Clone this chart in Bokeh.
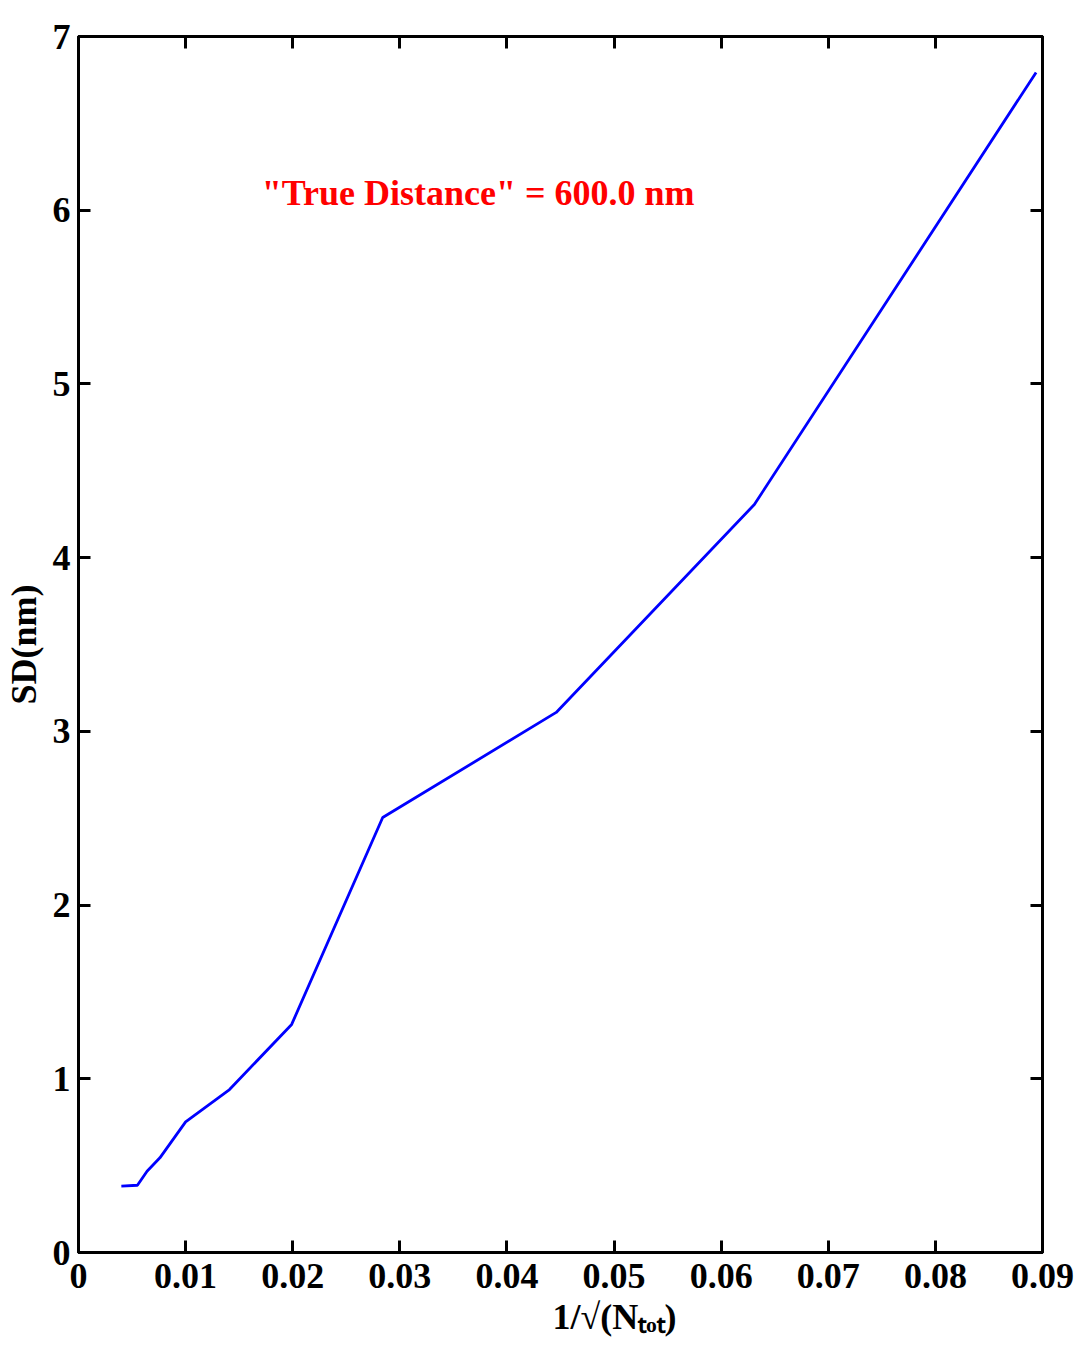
from bokeh.plotting import figure
from bokeh.models import LinearAxis, Label, Range1d, FixedTicker
from bokeh.embed import file_html
from bokeh.resources import INLINE

# data
inv_sqrt_n = [0.0040, 0.0055, 0.0064, 0.0076, 0.0100, 0.0141, 0.0199, 0.0284, 0.0446, 0.0631, 0.0894]
sd_nm = [0.382, 0.387, 0.468, 0.545, 0.752, 0.938, 1.313, 2.504, 3.109, 4.306, 6.793]
x_ticks = [0, 0.01, 0.02, 0.03, 0.04, 0.05, 0.06, 0.07, 0.08, 0.09]
x_tick_labels = {0: "0", 0.01: "0.01", 0.02: "0.02", 0.03: "0.03", 0.04: "0.04",
                 0.05: "0.05", 0.06: "0.06", 0.07: "0.07", 0.08: "0.08", 0.09: "0.09"}
y_ticks = [0, 1, 2, 3, 4, 5, 6, 7]
annotation = "\"True Distance\" = 600.0 nm"
x_label = "1/\u221a(N\u209c\u2092\u209c)"
y_label = "SD(nm)"

FONT = "Liberation Serif"
FS = "36px"

p = figure(frame_width=964, frame_height=1216, output_backend="svg", toolbar_location=None,
           x_range=Range1d(0, 0.09), y_range=Range1d(0, 7),
           x_axis_location=None, y_axis_location=None,
           min_border_left=70, min_border_right=40, min_border_top=36, min_border_bottom=80)
p.grid.visible = False
p.outline_line_color = "black"
p.outline_line_width = 3
p.background_fill_color = "white"
p.border_fill_color = "white"

def style(ax, labels=True):
    ax.axis_line_width = 3
    ax.axis_line_color = "black"
    ax.major_tick_in = 12
    ax.major_tick_out = 0
    ax.major_tick_line_width = 3
    ax.minor_tick_line_color = None
    ax.major_label_text_font = FONT
    ax.major_label_text_font_style = "bold"
    ax.major_label_text_font_size = FS
    ax.major_label_text_color = "black"
    ax.axis_label_text_font = FONT
    ax.axis_label_text_font_style = "bold"
    ax.axis_label_text_font_size = FS
    ax.axis_label_text_color = "black"
    if not labels:
        ax.major_label_text_font_size = "1px"
        ax.major_label_text_color = None
        ax.major_label_standoff = 0

xb = LinearAxis(ticker=FixedTicker(ticks=x_ticks), axis_label="\u00a0" * 12 + x_label)
xb.major_label_overrides = x_tick_labels
style(xb)
xb.major_label_standoff = 11
xb.axis_label_standoff = 6
p.add_layout(xb, "below")

yl = LinearAxis(ticker=FixedTicker(ticks=y_ticks), axis_label=y_label)
style(yl)
yl.major_label_standoff = 8
yl.axis_label_standoff = 6
p.add_layout(yl, "left")

xt = LinearAxis(ticker=FixedTicker(ticks=x_ticks))
style(xt, labels=False)
p.add_layout(xt, "above")

yr = LinearAxis(ticker=FixedTicker(ticks=y_ticks))
style(yr, labels=False)
p.add_layout(yr, "right")

p.line(inv_sqrt_n, sd_nm, line_color="#0000ff", line_width=2.8)

p.add_layout(Label(x=0.0171, y=6.10, text=annotation, text_color="#ff0000",
                   text_font=FONT, text_font_style="bold", text_font_size=FS,
                   text_baseline="alphabetic"))

open("out.html", "w").write(file_html(p, INLINE))
